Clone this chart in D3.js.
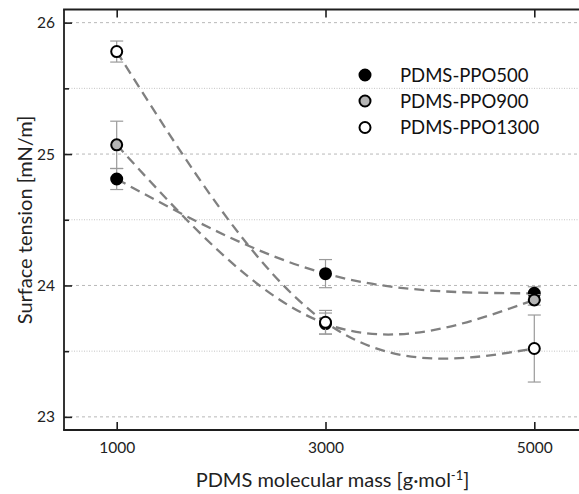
<!DOCTYPE html>
<html>
<head>
<meta charset="utf-8">
<script src="https://cdn.jsdelivr.net/npm/d3@7"></script>
<style>
  html, body { margin: 0; padding: 0; background: #fff; }
  svg { display: block; font-family: Lato, "Open Sans", sans-serif; }
</style>
</head>
<body>
<svg id="chart" width="579" height="494"></svg>
<script>
// Molecular mass of the PDMS block [g/mol]
const masses = [1000, 3000, 5000];
const seriesNames = ["PDMS-PPO500", "PDMS-PPO900", "PDMS-PPO1300"];
// Surface tension [mN/m] and its standard deviation, one array per copolymer
const ppo500 = [24.81, 24.09, 23.94];
const ppo500Err = [0.08, 0.107, 0.05];
const ppo900 = [25.07, 23.71, 23.89];
const ppo900Err = [0.18, 0.08, 0.04];
const ppo1300 = [25.78, 23.72, 23.52];
const ppo1300Err = [0.08, 0.09, 0.255];
const xTicks = [1000, 3000, 5000];
const yTicks = [23, 24, 25, 26];
const yMinorTicks = [23.5, 24.5, 25.5];
const fills = ["#000000", "#b4b4b4", "#ffffff"];

const series = [
  { name: seriesNames[0], values: ppo500, errors: ppo500Err, fill: fills[0] },
  { name: seriesNames[1], values: ppo900, errors: ppo900Err, fill: fills[1] },
  { name: seriesNames[2], values: ppo1300, errors: ppo1300Err, fill: fills[2] }
];

const svg = d3.select("#chart");
const plotLeft = 64, plotRight = 586.5, plotTop = 9.5, plotBottom = 430;

const x = d3.scaleLinear().domain([500, 5500]).range([plotLeft + 0.5, plotRight]);
const y = d3.scaleLinear().domain([22.9, 26.1]).range([plotBottom, plotTop]);

// horizontal grid lines
const grid = svg.append("g");
grid.selectAll("line.major").data(yTicks).join("line")
  .attr("x1", plotLeft).attr("x2", 579)
  .attr("y1", d => y(d)).attr("y2", d => y(d))
  .attr("stroke", "#b8b8b8").attr("stroke-width", 1).attr("stroke-dasharray", "3,3");
grid.selectAll("line.minor").data(yMinorTicks).join("line")
  .attr("x1", plotLeft).attr("x2", 579)
  .attr("y1", d => y(d)).attr("y2", d => y(d))
  .attr("stroke", "#c4c4c4").attr("stroke-width", 1).attr("stroke-dasharray", "1,1.5");

// axes (ticks point inwards)
const axisColor = "#1e1e1e";
const styleAxis = g => {
  g.select(".domain").remove();
  g.selectAll(".tick line").attr("stroke", axisColor).attr("stroke-width", 1.6);
  g.selectAll(".tick text").attr("fill", "#222").style("font-family", "Lato, sans-serif");
};

svg.append("g").attr("transform", `translate(0,${plotBottom})`)
  .call(d3.axisBottom(x).tickValues(xTicks).tickSizeInner(-8).tickSizeOuter(0).tickPadding(12).tickFormat(d3.format("d")))
  .call(styleAxis)
  .selectAll("text").style("font-size", "15.5px");

svg.append("g").attr("transform", `translate(0,${plotTop})`)
  .call(d3.axisTop(x).tickValues(xTicks).tickSizeInner(-8).tickSizeOuter(0).tickFormat(""))
  .call(styleAxis);

svg.append("g").attr("transform", `translate(${plotLeft},0)`)
  .call(d3.axisLeft(y).tickValues(yTicks).tickSizeInner(-8).tickSizeOuter(0).tickPadding(9).tickFormat(d3.format("d")))
  .call(styleAxis)
  .selectAll("text").style("font-size", "15.5px");

svg.append("g").attr("transform", `translate(${plotLeft},0)`)
  .call(d3.axisLeft(y).tickValues(yMinorTicks).tickSizeInner(-5).tickSizeOuter(0).tickFormat(""))
  .call(styleAxis);

// plot frame
const frame = svg.append("g").attr("stroke", axisColor).attr("stroke-width", 1.8);
frame.append("line").attr("x1", plotLeft).attr("x2", plotLeft).attr("y1", plotTop).attr("y2", plotBottom);
frame.append("line").attr("x1", plotLeft - 0.9).attr("x2", plotRight).attr("y1", plotBottom).attr("y2", plotBottom);
frame.append("line").attr("x1", plotLeft - 0.9).attr("x2", plotRight).attr("y1", plotTop).attr("y2", plotTop);

// dashed natural-spline guide through each series
const line = d3.line()
  .x((v, i) => x(masses[i]))
  .y(v => y(v))
  .curve(d3.curveNatural);

svg.append("g").selectAll("path").data(series).join("path")
  .attr("d", s => line(s.values))
  .attr("fill", "none").attr("stroke", "#808080").attr("stroke-width", 2.3)
  .attr("stroke-dasharray", "10,6");

// error bars and markers, series by series
const capHalf = 6.5;
series.forEach(s => {
  const g = svg.append("g");
  const pts = masses.map((m, i) => ({ m, v: s.values[i], e: s.errors[i] }));
  const eb = g.append("g").attr("stroke", "#9a9a9a").attr("stroke-width", 1.2);
  eb.selectAll("line.v").data(pts).join("line")
    .attr("x1", d => x(d.m)).attr("x2", d => x(d.m))
    .attr("y1", d => y(d.v - d.e)).attr("y2", d => y(d.v + d.e));
  eb.selectAll("line.t").data(pts).join("line")
    .attr("x1", d => x(d.m) - capHalf).attr("x2", d => x(d.m) + capHalf)
    .attr("y1", d => y(d.v + d.e)).attr("y2", d => y(d.v + d.e));
  eb.selectAll("line.b").data(pts).join("line")
    .attr("x1", d => x(d.m) - capHalf).attr("x2", d => x(d.m) + capHalf)
    .attr("y1", d => y(d.v - d.e)).attr("y2", d => y(d.v - d.e));
  g.selectAll("circle").data(pts).join("circle")
    .attr("cx", d => x(d.m)).attr("cy", d => y(d.v)).attr("r", 5.5)
    .attr("fill", s.fill).attr("stroke", "#000").attr("stroke-width", 2);
});

// legend
const legend = svg.append("g");
const legendRows = [75, 101, 127.5];
series.forEach((s, i) => {
  legend.append("circle").attr("cx", 365).attr("cy", legendRows[i]).attr("r", 5.5)
    .attr("fill", s.fill).attr("stroke", "#000").attr("stroke-width", 2);
  legend.append("text").attr("x", 400).attr("y", legendRows[i] + 6.5)
    .attr("fill", "#111").style("font-size", "18.5px").text(s.name);
});

// axis titles
const xTitle = svg.append("text")
  .attr("x", 0).attr("y", 487).attr("text-anchor", "start")
  .attr("fill", "#222").style("font-size", "20px");
xTitle.append("tspan").text("PDMS molecular mass [g·mol");
xTitle.append("tspan").attr("dy", -7).style("font-size", "13px").text("-1");
xTitle.append("tspan").attr("dy", 7).text("]");
const xTitleWidth = xTitle.node().getBBox().width;
xTitle.attr("x", 332.5 - xTitleWidth / 2);

svg.append("text")
  .attr("transform", "translate(32,220) rotate(-90)")
  .attr("text-anchor", "middle").attr("fill", "#222").style("font-size", "20px")
  .text("Surface tension [mN/m]");
</script>
</body>
</html>
